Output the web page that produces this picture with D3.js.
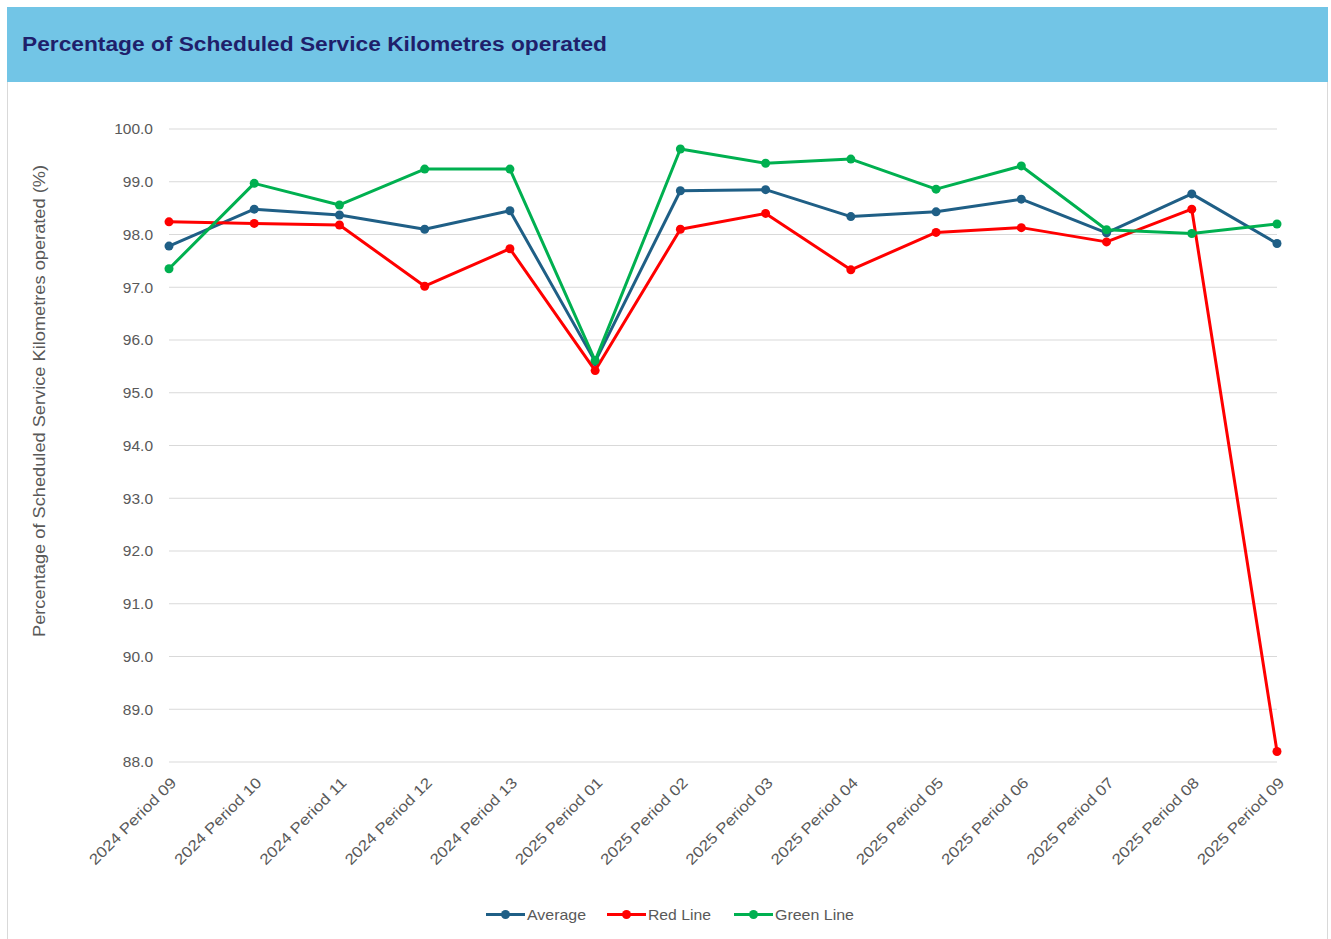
<!DOCTYPE html>
<html><head><meta charset="utf-8">
<script src="https://cdn.jsdelivr.net/npm/d3@7"></script>
<style>body{margin:0;background:#fff;font-family:"Liberation Sans",Arial,sans-serif}</style>
</head><body><svg id="c" width="1331" height="939"></svg>
<script>
const categories = ["2024 Period 09","2024 Period 10","2024 Period 11","2024 Period 12","2024 Period 13","2025 Period 01","2025 Period 02","2025 Period 03","2025 Period 04","2025 Period 05","2025 Period 06","2025 Period 07","2025 Period 08","2025 Period 09"];
const averageValues = [97.78,98.48,98.37,98.10,98.45,95.59,98.83,98.85,98.34,98.43,98.67,98.03,98.77,97.83];
const redValues =     [98.24,98.21,98.18,97.02,97.73,95.42,98.10,98.40,97.33,98.04,98.13,97.86,98.48,88.20];
const greenValues =   [97.35,98.97,98.56,99.24,99.24,95.61,99.62,99.35,99.43,98.86,99.30,98.09,98.02,98.20];
const yTicks = [88,89,90,91,92,93,94,95,96,97,98,99,100];
const seriesNames = ["Average","Red Line","Green Line"];
const seriesColors = ["#1F5F86","#FF0000","#00B050"];
const FONT = "Liberation Sans, Arial, sans-serif";

const svg = d3.select("#c");
svg.append("rect").attr("x",7.5).attr("y",7.5).attr("width",1320).attr("height",940).attr("fill","#fff").attr("stroke","#D9D9D9");
svg.append("rect").attr("x",7).attr("y",7).attr("width",1321).attr("height",75).attr("fill","#72C5E6");
svg.append("text").attr("x",22).attr("y",51).attr("fill","#1F1F6B").attr("font-size",20).attr("font-weight","bold")
  .attr("font-family",FONT).attr("textLength",585).attr("lengthAdjust","spacingAndGlyphs")
  .text("Percentage of Scheduled Service Kilometres operated");

const x = d3.scalePoint().domain(categories).range([169,1277]);
const y = d3.scaleLinear().domain([88,100]).range([762,129]);

svg.append("g").selectAll("line").data(yTicks).join("line")
  .attr("x1",169).attr("x2",1277).attr("y1",d=>y(d)).attr("y2",d=>y(d))
  .attr("stroke","#D9D9D9").attr("stroke-width",1);

const yAxis = d3.axisLeft(y).tickValues(yTicks).tickFormat(d3.format(".1f")).tickSize(0).tickPadding(0);
const ga = svg.append("g").attr("transform","translate(153,0)").call(yAxis);
ga.select(".domain").remove();
ga.selectAll("text").attr("fill","#595959").attr("font-size",15.5).attr("font-family",FONT);

const xAxis = d3.axisBottom(x).tickSize(0).tickPadding(0);
const gx = svg.append("g").attr("transform","translate(0,776)").call(xAxis);
gx.select(".domain").remove();
gx.selectAll("text").attr("fill","#595959").attr("font-size",15).attr("font-family",FONT)
  .attr("text-anchor","end").attr("dy","0.35em").attr("transform","translate(4,4) rotate(-45)")
  .attr("textLength",116).attr("lengthAdjust","spacingAndGlyphs");

svg.append("text").attr("transform","translate(45,401) rotate(-90)").attr("text-anchor","middle")
  .attr("fill","#595959").attr("font-size",16).attr("font-family",FONT)
  .attr("textLength",472).attr("lengthAdjust","spacingAndGlyphs")
  .text("Percentage of Scheduled Service Kilometres operated (%)");

const allSeries = [averageValues, redValues, greenValues];
const line = d3.line().x((d,i)=>x(categories[i])).y(d=>y(d));
allSeries.forEach((vals,k)=>{
  const g = svg.append("g");
  g.append("path").datum(vals).attr("d",line).attr("fill","none").attr("stroke",seriesColors[k]).attr("stroke-width",3).attr("stroke-linejoin","round");
  g.selectAll("circle").data(vals).join("circle").attr("cx",(d,i)=>x(categories[i])).attr("cy",d=>y(d)).attr("r",4.5).attr("fill",seriesColors[k]);
});

const legendX = [486,607,734];
const legendW = [59,63,79];
const lg = svg.append("g");
seriesNames.forEach((n,k)=>{
  const gx0 = legendX[k];
  lg.append("line").attr("x1",gx0).attr("x2",gx0+39).attr("y1",914.5).attr("y2",914.5).attr("stroke",seriesColors[k]).attr("stroke-width",3);
  lg.append("circle").attr("cx",gx0+19.5).attr("cy",914.5).attr("r",4.5).attr("fill",seriesColors[k]);
  lg.append("text").attr("x",gx0+41).attr("y",919.5).attr("fill","#595959").attr("font-size",15)
    .attr("font-family",FONT).attr("textLength",legendW[k]).attr("lengthAdjust","spacingAndGlyphs").text(n);
});
</script></body></html>
